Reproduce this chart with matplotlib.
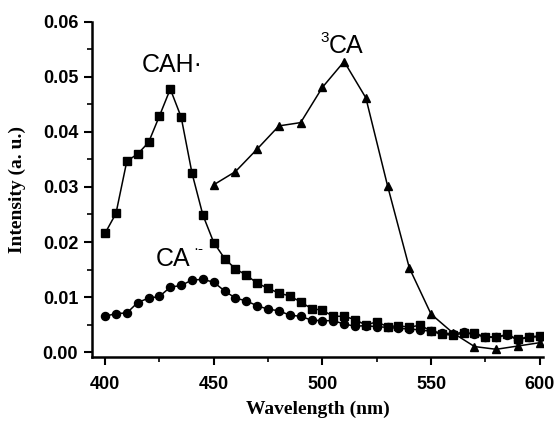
import matplotlib
matplotlib.use('Agg')
import matplotlib.pyplot as plt
from matplotlib.ticker import MultipleLocator, FormatStrFormatter

# wavelength grid (nm)
wl = list(range(400, 605, 5))

# CAH. radical (squares)
cah = [0.0216, 0.0252, 0.0347, 0.0360, 0.0381, 0.0429, 0.0478, 0.0427, 0.0325, 0.0249,
       0.0199, 0.0170, 0.0151, 0.0140, 0.0125, 0.0116, 0.0107, 0.0102, 0.0091, 0.0079,
       0.0076, 0.0065, 0.0065, 0.0059, 0.0049, 0.0055, 0.0046, 0.0048, 0.0045, 0.0049,
       0.0038, 0.0032, 0.0031, 0.0034, 0.0034, 0.0028, 0.0027, 0.0032, 0.0023, 0.0028,
       0.0029]

# CA radical anion (circles)
ca_anion = [0.0065, 0.0070, 0.0071, 0.0090, 0.0098, 0.0101, 0.0118, 0.0121, 0.0131, 0.0132,
            0.0127, 0.0111, 0.0098, 0.0093, 0.0084, 0.0078, 0.0075, 0.0067, 0.0065, 0.0058,
            0.0057, 0.0057, 0.0051, 0.0047, 0.0048, 0.0046, 0.0045, 0.0043, 0.0042, 0.0040,
            0.0038, 0.0035, 0.0033, 0.0036, 0.0032, 0.0027, 0.0027, 0.0031, 0.0022, 0.0027,
            0.0028]

# triplet 3CA (triangles)
wl_t = [450, 460, 470, 480, 490, 500, 510, 520, 530, 540, 550, 560, 570, 580, 590, 600]
triplet = [0.0304, 0.0328, 0.0369, 0.0411, 0.0417, 0.0481, 0.0528, 0.0462, 0.0302, 0.0153,
           0.0069, 0.0035, 0.0010, 0.0005, 0.0011, 0.0017]

plt.rcParams['font.family'] = ['Liberation Sans', 'DejaVu Sans']

fig = plt.figure(figsize=(5.58, 4.21), dpi=100)
ax = fig.add_axes([0.165, 0.152, 0.808, 0.796])

ax.plot(wl, cah, '-s', color='black', lw=1.1, ms=5.8)
ax.plot(wl, ca_anion, '-o', color='black', lw=1.1, ms=5.8)
ax.plot(wl_t, triplet, '-^', color='black', lw=1.1, ms=6.3)

ax.set_xlim(394, 601.5)
ax.set_ylim(-0.0009, 0.06)

ax.spines['top'].set_visible(False)
ax.spines['right'].set_visible(False)
ax.spines['left'].set_linewidth(1.8)
ax.spines['bottom'].set_linewidth(1.8)

ax.xaxis.set_major_locator(MultipleLocator(50))
ax.xaxis.set_minor_locator(MultipleLocator(25))
ax.yaxis.set_major_locator(MultipleLocator(0.01))
ax.yaxis.set_minor_locator(MultipleLocator(0.005))
ax.yaxis.set_major_formatter(FormatStrFormatter('%.2f'))
ax.tick_params(which='major', direction='out', length=6, width=1.5, labelsize=13)
ax.tick_params(axis='x', which='major', pad=8)
ax.tick_params(axis='y', which='major', pad=4)
ax.tick_params(which='minor', direction='out', length=3.5, width=1.2)
for lab in ax.get_xticklabels() + ax.get_yticklabels():
    lab.set_fontweight('bold')

ax.set_xlabel('Wavelength (nm)', family='Liberation Serif', fontweight='bold', fontsize=14, labelpad=5)
ax.set_ylabel('Intensity (a. u.)', family='Liberation Serif', fontweight='bold', fontsize=14, labelpad=12)

# peak labels
ax.text(417, 0.0522, 'CAH\u00b7', fontsize=18, ha='left', va='center')
ax.text(499.2, 0.0570, '3', fontsize=11, ha='left', va='center')
ax.text(502.8, 0.0557, 'CA', fontsize=18, ha='left', va='center')
ax.text(423.4, 0.0170, 'CA', fontsize=18, ha='left', va='center')
ax.text(440.5, 0.0187, '\u00b7-', fontsize=11, ha='left', va='center')

fig.savefig('out.png', dpi=100)
